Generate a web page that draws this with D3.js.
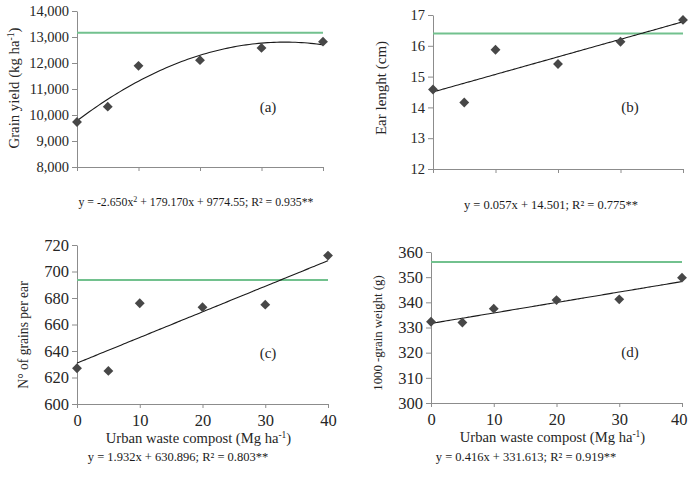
<!DOCTYPE html>
<html lang="en">
<head>
<meta charset="UTF-8">
<title>Urban waste compost panels</title>
<script src="https://d3js.org/d3.v7.min.js"></script>
<style>
  body { margin: 0; background: #fff; }
  svg { display: block; font-family: "Liberation Serif", "Times New Roman", serif; }
  .domain, .tick line { stroke: #8c8c8c; }
  .tick text { fill: #262626; }
</style>
</head>
<body>
<svg id="chart" width="689" height="481"></svg>
<script>
// compost doses (Mg ha-1)
const doses = [0, 5, 10, 20, 30, 40];
const xTicks = [0, 10, 20, 30, 40];

// measured means
const grainYield = [9730, 10320, 11890, 12110, 12580, 12820];
const earLength = [14.58, 14.16, 15.87, 15.41, 16.13, 16.84];
const grainsPerEar = [627, 625, 676, 673, 675, 712];
const grainWeight = [332.3, 332.0, 337.5, 340.9, 341.2, 349.8];

// green reference (mineral fertilization) level for each panel
const refLevels = [13160, 16.4, 693.5, 356.0];

// fitted equations: [c0, c1, c2]
const fitA = [9774.55, 179.170, -2.650];
const fitB = [14.501, 0.057, 0];
const fitC = [630.896, 1.932, 0];
const fitD = [331.613, 0.416, 0];

const yTicksA = [8000, 9000, 10000, 11000, 12000, 13000, 14000];
const yTicksB = [12, 13, 14, 15, 16, 17];
const yTicksC = [600, 620, 640, 660, 680, 700, 720];
const yTicksD = [300, 310, 320, 330, 340, 350, 360];

const panels = [
  { id: "a", values: grainYield, fit: fitA, ref: refLevels[0], ticks: yTicksA, fmt: d3.format(","),
    box: [77, 11, 323, 167], fs: 14.5, titleFs: 14.8, title: ["Grain yield (kg ha", "-1", ")"], titleX: 14, titleY: 88,
    label: [268, 112], eq: ["y = -2.650x", "2", " + 179.170x + 9774.55; R² = 0.935**"], eqFs: 11.8, eqPos: [196, 206], xLabels: false },
  { id: "b", values: earLength, fit: fitB, ref: refLevels[1], ticks: yTicksB, fmt: d3.format("d"),
    box: [433, 15, 683, 169], fs: 14.5, titleFs: 15, title: ["Ear lenght (cm)"], titleX: 381, titleY: 88,
    label: [630, 112], eq: ["y = 0.057x + 14.501; R² = 0.775**"], eqFs: 12.5, eqPos: [551, 209], xLabels: false },
  { id: "c", values: grainsPerEar, fit: fitC, ref: refLevels[2], ticks: yTicksC, fmt: d3.format("d"),
    box: [77, 245, 328, 404], fs: 16.5, titleFs: 13.6, title: ["N° of grains per ear"], titleX: 23, titleY: 335,
    label: [268, 358], eq: ["y = 1.932x + 630.896; R² = 0.803**"], eqFs: 12.5, eqPos: [178, 461], xLabels: true },
  { id: "d", values: grainWeight, fit: fitD, ref: refLevels[3], ticks: yTicksD, fmt: d3.format("d"),
    box: [431, 252, 682, 403], fs: 16.5, titleFs: 12.8, title: ["1000 -grain weight (g)"], titleX: 378, titleY: 333,
    label: [630, 357], eq: ["y = 0.416x + 331.613; R² = 0.919**"], eqFs: 12.5, eqPos: [526, 461], xLabels: true }
];

const svg = d3.select("#chart");
const diamond = d3.symbol().type(d3.symbolDiamond2).size(62);

function evalFit(c, x) { return c[0] + c[1] * x + c[2] * x * x; }

panels.forEach(p => {
  const [x0, y0, x1, y1] = p.box;
  const x = d3.scaleLinear().domain([0, 40]).range([x0, x1]);
  const y = d3.scaleLinear().domain(d3.extent(p.ticks)).range([y1, y0]);
  const g = svg.append("g").attr("class", "panel-" + p.id);

  // axes
  const xAxis = d3.axisBottom(x).tickValues(xTicks).tickSizeOuter(0).tickSize(4)
    .tickFormat(p.xLabels ? d3.format("d") : "");
  const gx = g.append("g").attr("transform", `translate(0,${y1})`).call(xAxis);
  gx.selectAll(".tick text").attr("font-size", p.fs).attr("dy", "0.9em")
    .attr("dx", d => (x(d) + p.fs / 2 > 687 ? -(x(d) + p.fs / 2 - 687) : 0));
  gx.attr("font-family", null).attr("font-size", null);

  const yAxis = d3.axisLeft(y).tickValues(p.ticks).tickFormat(p.fmt).tickSize(5).tickSizeOuter(0);
  const gy = g.append("g").attr("transform", `translate(${x0},0)`).call(yAxis);
  gy.selectAll(".tick text").attr("font-size", p.fs).attr("x", -8);
  gy.attr("font-family", null).attr("font-size", null);

  // reference line
  g.append("line")
    .attr("x1", x(0)).attr("x2", x(40))
    .attr("y1", y(p.ref)).attr("y2", y(p.ref))
    .attr("stroke", "#72c18e").attr("stroke-width", 2);

  // trend
  const xs = d3.range(0, 40.01, 0.5);
  g.append("path")
    .datum(xs)
    .attr("fill", "none").attr("stroke", "#1a1a1a").attr("stroke-width", 1.1)
    .attr("d", d3.line().x(d => x(d)).y(d => y(evalFit(p.fit, d))).curve(d3.curveMonotoneX));

  // points
  g.selectAll("path.pt")
    .data(doses.map((d, i) => [d, p.values[i]]))
    .join("path")
    .attr("class", "pt")
    .attr("transform", d => `translate(${x(d[0])},${y(d[1])})`)
    .attr("d", diamond)
    .attr("fill", "#474747");

  // panel tag
  g.append("text")
    .attr("x", p.label[0]).attr("y", p.label[1])
    .attr("text-anchor", "middle").attr("font-size", 15).attr("fill", "#262626")
    .text(`(${p.id})`);

  // y title
  const t = g.append("text")
    .attr("transform", `translate(${p.titleX},${p.titleY}) rotate(-90)`)
    .attr("text-anchor", "middle").attr("dy", "0.35em")
    .attr("font-size", p.titleFs).attr("fill", "#262626");
  t.append("tspan").text(p.title[0]);
  if (p.title.length > 1) {
    t.append("tspan").attr("font-size", p.titleFs * 0.65).attr("baseline-shift", "super").text(p.title[1]);
    t.append("tspan").text(p.title[2]);
  }

  // x title
  if (p.xLabels) {
    const xt = g.append("text")
      .attr("x", (x0 + x1) / 2 - 4).attr("y", y1 + 39)
      .attr("text-anchor", "middle").attr("font-size", 14.6).attr("fill", "#262626");
    xt.append("tspan").text("Urban waste compost (Mg ha");
    xt.append("tspan").attr("font-size", 9.5).attr("baseline-shift", "super").text("-1");
    xt.append("tspan").text(")");
  }

  // equation
  const e = g.append("text")
    .attr("x", p.eqPos[0]).attr("y", p.eqPos[1])
    .attr("text-anchor", "middle").attr("font-size", p.eqFs).attr("fill", "#1a1a1a");
  e.append("tspan").text(p.eq[0]);
  if (p.eq.length > 1) {
    e.append("tspan").attr("font-size", 8).attr("baseline-shift", "super").text(p.eq[1]);
    e.append("tspan").text(p.eq[2]);
  }
});
</script>
</body>
</html>
